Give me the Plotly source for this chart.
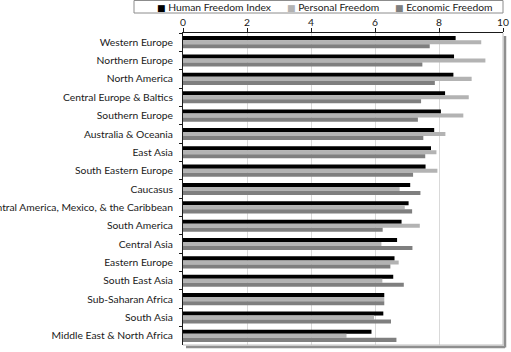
import plotly.graph_objects as go

regions = ["Western Europe", "Northern Europe", "North America", "Central Europe & Baltics",
           "Southern Europe", "Australia & Oceania", "East Asia", "South Eastern Europe",
           "Caucasus", "Central America, Mexico, & the Caribbean", "South America",
           "Central Asia", "Eastern Europe", "South East Asia", "Sub-Saharan Africa",
           "South Asia", "Middle East & North Africa"]
human_freedom = [8.52, 8.47, 8.45, 8.19, 8.06, 7.85, 7.75, 7.58, 7.10, 7.05, 6.83, 6.69,
                 6.61, 6.57, 6.29, 6.26, 5.89]
personal_freedom = [9.32, 9.45, 9.02, 8.93, 8.76, 8.20, 7.92, 7.95, 6.77, 6.93, 7.40, 6.20,
                    6.74, 6.23, 6.29, 5.97, 5.11]
economic_freedom = [7.71, 7.48, 7.87, 7.44, 7.34, 7.51, 7.57, 7.19, 7.42, 7.16, 6.24, 7.17,
                    6.48, 6.90, 6.29, 6.50, 6.67]
series_names = ["Human Freedom Index", "Personal Freedom", "Economic Freedom"]
series_colors = ["#000000", "#b3b3b3", "#7f7f7f"]

FONT = "Lato"
FS = 10.3
TXT = "#1a1a1a"
W, H = 511, 352
L, R, T, B = 183, 8, 33, 7
pw, ph = W - L - R, H - T - B

fig = go.Figure()
for name, vals, col in zip(series_names, [human_freedom, personal_freedom, economic_freedom],
                           series_colors):
    fig.add_trace(go.Bar(y=regions, x=vals, name=name, orientation="h",
                         marker=dict(color=col, line=dict(width=0))))

def px_x(p):
    return (p - L) / pw

def px_y(p):
    return 1 - (p - T) / ph

shapes = [
    # legend box
    dict(type="rect", xref="paper", yref="paper", x0=px_x(134), x1=px_x(503),
         y0=px_y(13), y1=px_y(0.5), line=dict(color="#8c8c8c", width=1), fillcolor="rgba(0,0,0,0)"),
    # plot frame
    dict(type="line", xref="paper", yref="paper", x0=px_x(503), x1=px_x(503),
         y0=px_y(33), y1=px_y(345), line=dict(color="#bfbfbf", width=1)),
    dict(type="line", xref="paper", yref="paper", x0=px_x(183), x1=px_x(503),
         y0=px_y(345), y1=px_y(345), line=dict(color="#bfbfbf", width=1)),
    # shadow of plot frame
    dict(type="line", xref="paper", yref="paper", x0=px_x(505), x1=px_x(505),
         y0=px_y(36), y1=px_y(347.5), line=dict(color="#8f8f8f", width=2.5)),
    dict(type="line", xref="paper", yref="paper", x0=px_x(186), x1=px_x(505),
         y0=px_y(347), y1=px_y(347), line=dict(color="#8f8f8f", width=2.5)),
]

legend_x = [155, 285, 393]
annotations = []
for name, col, lx in zip(series_names, series_colors, legend_x):
    annotations.append(dict(
        xref="paper", yref="paper", x=px_x(lx), y=px_y(7), xanchor="left", yanchor="middle",
        showarrow=False,
        text=f'<span style="color:{col};font-family:DejaVu Sans;font-size:9px">■</span> {name}',
        font=dict(family=FONT, size=FS, color=TXT)))

fig.update_layout(
    width=W, height=H,
    margin=dict(l=L, r=R, t=T, b=B, autoexpand=False),
    paper_bgcolor="white", plot_bgcolor="white",
    barmode="group", bargap=0.34, bargroupgap=0,
    font=dict(family=FONT, size=FS, color=TXT),
    showlegend=False,
    shapes=shapes,
    annotations=annotations,
    xaxis=dict(side="top", range=[0, 10], dtick=2, tick0=0, showgrid=True,
               gridcolor="#d9d9d9", gridwidth=1, showline=True, linecolor=TXT,
               linewidth=1, ticks="outside", ticklen=4, tickcolor=TXT,
               zeroline=False, mirror=False, fixedrange=True, ticklabelstandoff=-2,
               tickfont=dict(family=FONT, size=FS, color=TXT)),
    yaxis=dict(autorange="reversed", showline=True, linecolor=TXT, linewidth=1,
               ticks="outside", ticklen=3, tickcolor=TXT, tickson="boundaries",
               showgrid=False, ticklabelstandoff=7,
               tickfont=dict(family=FONT, size=FS, color=TXT)),
)

fig.write_html("out.html")
